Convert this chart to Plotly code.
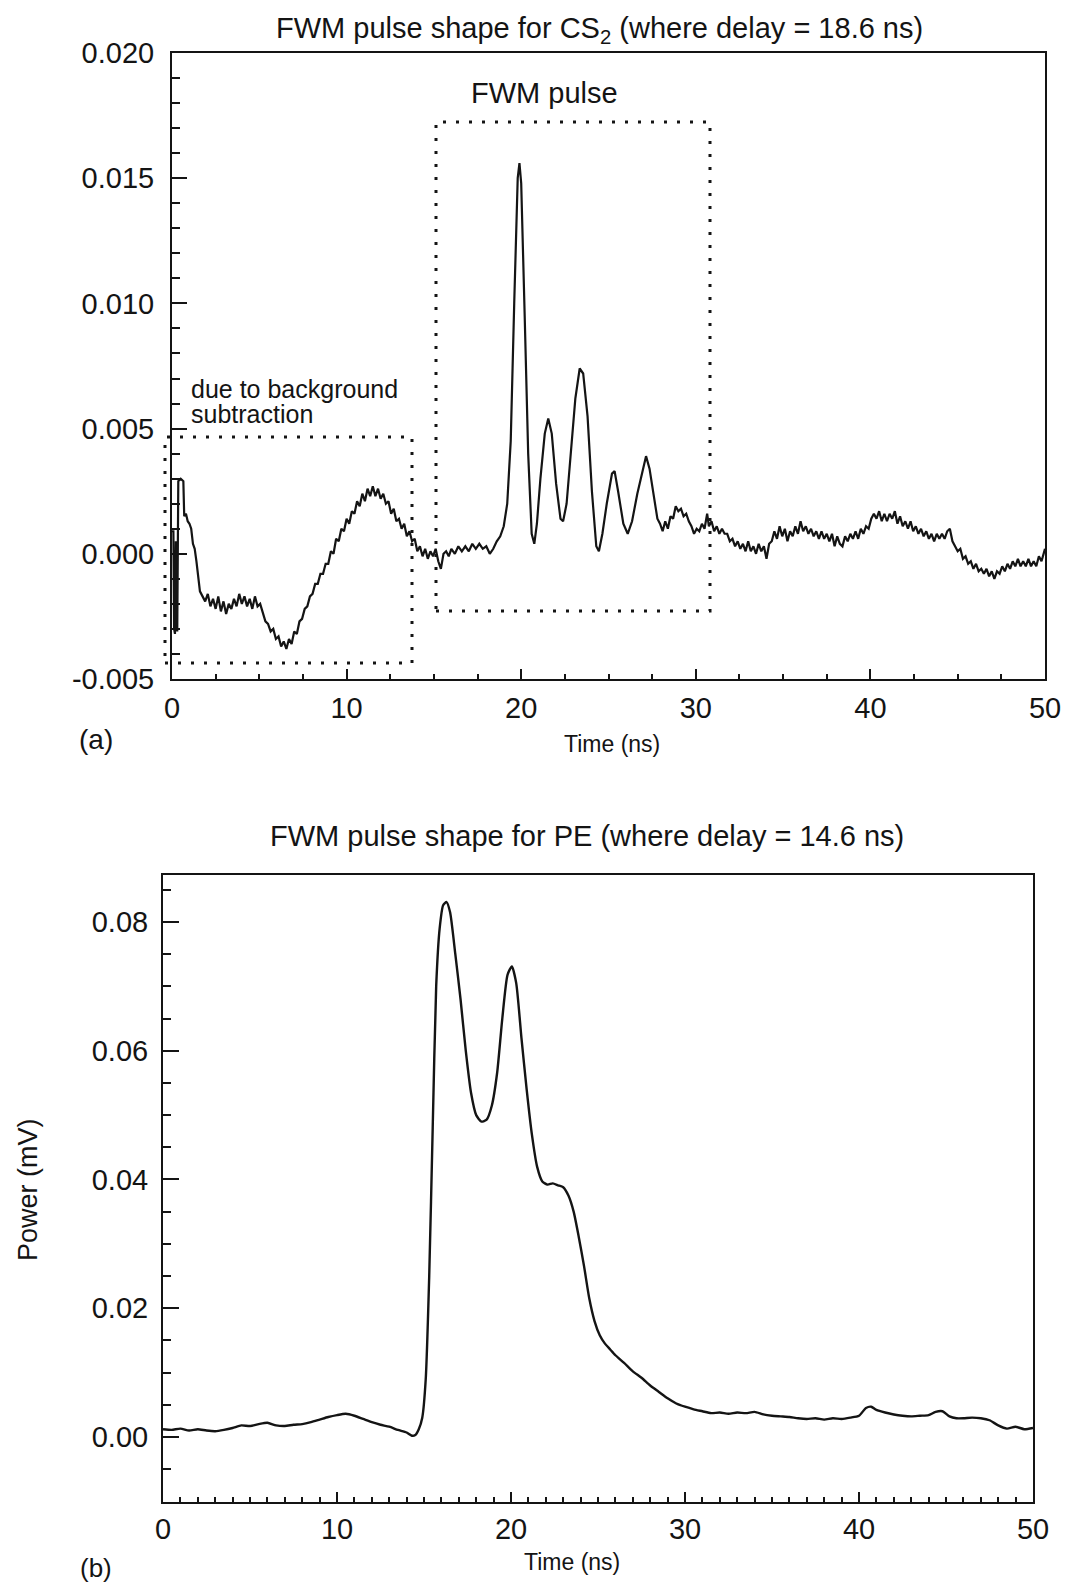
import plotly.graph_objects as go

# ---------------- Data: (a) CS2 FWM pulse ----------------
cs2_time = [
    0.00, 0.08, 0.12, 0.17, 0.22, 0.30, 0.36, 0.50, 0.65, 0.70, 0.80, 0.90, 1.00, 1.10, 1.20, 1.30, 1.40,
    1.50, 1.60, 1.75, 1.90, 2.05, 2.20, 2.35, 2.50, 2.65, 2.80, 2.95, 3.10, 3.25, 3.40, 3.55, 3.70,
    3.85, 4.00, 4.15, 4.30, 4.45, 4.60, 4.75, 4.90, 5.05, 5.20, 5.35, 5.50, 5.65, 5.80, 5.95, 6.10,
    6.25, 6.40, 6.55, 6.70, 6.85, 7.00, 7.15, 7.30, 7.45, 7.60, 7.75, 7.90, 8.05, 8.20, 8.35, 8.50,
    8.65, 8.80, 8.95, 9.10, 9.25, 9.40, 9.55, 9.70, 9.85, 10.00, 10.15, 10.30, 10.45, 10.60, 10.75,
    10.90, 11.05, 11.20, 11.35, 11.50, 11.65, 11.80, 11.95, 12.10, 12.25, 12.40, 12.55, 12.70, 12.85,
    13.00, 13.15, 13.30, 13.45, 13.60, 13.75, 13.90, 14.05, 14.20, 14.35, 14.50, 14.65, 14.80, 14.95,
    15.10, 15.25, 15.40, 15.55, 15.70, 15.85, 16.00, 16.20, 16.40, 16.60, 16.80, 17.00, 17.20, 17.40,
    17.60, 17.80, 18.00, 18.20, 18.40, 18.60, 18.80, 19.00, 19.20, 19.40, 19.60, 19.80, 19.90, 20.00,
    20.20, 20.40, 20.60, 20.75, 20.90, 21.10, 21.35, 21.55, 21.75, 22.00, 22.25, 22.40, 22.60, 22.85,
    23.10, 23.35, 23.55, 23.80, 24.05, 24.30, 24.45, 24.65, 24.90, 25.20, 25.35, 25.55, 25.85, 26.10,
    26.35, 26.65, 26.95, 27.15, 27.35, 27.60, 27.80, 27.95, 28.10, 28.25, 28.40, 28.55, 28.70, 28.85,
    29.00, 29.15, 29.30, 29.45, 29.60, 29.75, 29.90, 30.05, 30.20, 30.35, 30.50, 30.65, 30.75, 30.90,
    31.05, 31.20, 31.35, 31.50, 31.65, 31.80, 31.95, 32.10, 32.25, 32.40, 32.55, 32.70, 32.85, 33.00,
    33.15, 33.30, 33.45, 33.60, 33.75, 33.90, 34.05, 34.20, 34.35, 34.50, 34.65, 34.80, 34.95, 35.10,
    35.25, 35.40, 35.55, 35.70, 35.85, 36.00, 36.15, 36.30, 36.45, 36.60, 36.75, 36.90, 37.05, 37.20,
    37.35, 37.50, 37.65, 37.80, 37.95, 38.10, 38.25, 38.40, 38.55, 38.70, 38.85, 39.00, 39.15, 39.30,
    39.45, 39.60, 39.75, 39.90, 40.05, 40.20, 40.35, 40.50, 40.65, 40.80, 40.95, 41.10, 41.25, 41.40,
    41.55, 41.70, 41.85, 42.00, 42.15, 42.30, 42.45, 42.60, 42.75, 42.90, 43.05, 43.20, 43.35, 43.50,
    43.65, 43.80, 43.95, 44.10, 44.25, 44.40, 44.55, 44.70, 44.85, 45.00, 45.15, 45.30, 45.45, 45.60,
    45.75, 45.90, 46.05, 46.20, 46.35, 46.50, 46.65, 46.80, 46.95, 47.10, 47.25, 47.40, 47.55, 47.70,
    47.85, 48.00, 48.15, 48.30, 48.45, 48.60, 48.75, 48.90, 49.05, 49.20, 49.35, 49.50, 49.65, 49.80,
    50.00,
]
cs2_signal = [
    0.0009, 0.0009, -0.0030, -0.0032, 0.0005, -0.0031, 0.0029, 0.0030, 0.0029, 0.0015, 0.0016, 0.0013,
    0.0012, 0.0010, 0.0004, 0.0002, -0.0003,
    -0.0010, -0.0015, -0.0017, -0.0019, -0.0016, -0.0021, -0.0018, -0.0022, -0.0017, -0.0023, -0.0019,
    -0.0024, -0.0020, -0.0022, -0.0018, -0.0021,
    -0.0016, -0.0020, -0.0017, -0.0021, -0.0018, -0.0022, -0.0017, -0.0021, -0.0020, -0.0024, -0.0027,
    -0.0028, -0.0031, -0.0030, -0.0034, -0.0033,
    -0.0037, -0.0035, -0.0038, -0.0034, -0.0036, -0.0031, -0.0032, -0.0027, -0.0026, -0.0022, -0.0021,
    -0.0017, -0.0016, -0.0012, -0.0012, -0.0008,
    -0.0008, -0.0004, -0.0004, 0.0001, 0.0000, 0.0006, 0.0005, 0.0010, 0.0009, 0.0014, 0.0012, 0.0017,
    0.0016, 0.0021, 0.0019,
    0.0024, 0.0021, 0.0026, 0.0023, 0.0027, 0.0023, 0.0026, 0.0022, 0.0024, 0.0020, 0.0021, 0.0016,
    0.0018, 0.0013,
    0.0014, 0.0010, 0.0012, 0.0007, 0.0009, 0.0005, 0.0006, 0.0001, 0.0003, -0.0001, 0.0002, -0.0002,
    0.0001, -0.0001,
    0.0002, -0.0003, -0.0006, 0.0000, 0.0001, -0.0001, 0.0002, 0.0000, 0.0003, 0.0001, 0.0003, 0.0001,
    0.0004, 0.0002,
    0.0004, 0.0002, 0.0003, 0.0000, 0.0002, 0.0005, 0.0007, 0.0011, 0.0020, 0.0045, 0.0100, 0.0150,
    0.0156, 0.0148,
    0.0095, 0.0040, 0.0008, 0.0004, 0.0012, 0.0030, 0.0048, 0.0054, 0.0048, 0.0028, 0.0014, 0.0013,
    0.0020, 0.0040,
    0.0062, 0.0074, 0.0072, 0.0055, 0.0025, 0.0003, 0.0001, 0.0008, 0.0020, 0.0032, 0.0033, 0.0025,
    0.0012, 0.0008,
    0.0013, 0.0024, 0.0033, 0.0039, 0.0034, 0.0022, 0.0014, 0.0012, 0.0009, 0.0013, 0.0010, 0.0015,
    0.0014, 0.0019,
    0.0017, 0.0018, 0.0015, 0.0016, 0.0013, 0.0011, 0.0008, 0.0010, 0.0009, 0.0012, 0.0010, 0.0016,
    0.0011, 0.0013,
    0.0009, 0.0011, 0.0008, 0.0010, 0.0008, 0.0008, 0.0005, 0.0006, 0.0003, 0.0005, 0.0002, 0.0004,
    0.0001, 0.0005,
    0.0001, 0.0003, 0.0000, 0.0004, 0.0001, 0.0003, -0.0002, 0.0004, 0.0005, 0.0009, 0.0006, 0.0011,
    0.0007, 0.0010,
    0.0005, 0.0009, 0.0007, 0.0011, 0.0008, 0.0013, 0.0009, 0.0011, 0.0008, 0.0010, 0.0007, 0.0009,
    0.0006, 0.0009,
    0.0006, 0.0008, 0.0005, 0.0008, 0.0003, 0.0007, 0.0004, 0.0003, 0.0007, 0.0005, 0.0008, 0.0006,
    0.0009, 0.0006,
    0.0010, 0.0008, 0.0011, 0.0010, 0.0014, 0.0016, 0.0014, 0.0017, 0.0013, 0.0016, 0.0013, 0.0016,
    0.0014, 0.0017,
    0.0012, 0.0015, 0.0011, 0.0013, 0.0010, 0.0013, 0.0009, 0.0011, 0.0008, 0.0010, 0.0007, 0.0009,
    0.0006, 0.0008,
    0.0005, 0.0008, 0.0006, 0.0008, 0.0006, 0.0009, 0.0010, 0.0005, 0.0003, 0.0001, 0.0002, -0.0002,
    -0.0001, -0.0004,
    -0.0003, -0.0006, -0.0004, -0.0007, -0.0006, -0.0008, -0.0006, -0.0009, -0.0007, -0.0010, -0.0007,
    -0.0008, -0.0005, -0.0007,
    -0.0004, -0.0006, -0.0003, -0.0005, -0.0002, -0.0005, -0.0003, -0.0005, -0.0002, -0.0005, -0.0003,
    -0.0005, -0.0001, -0.0003,
    0.0002,
]

# ---------------- Data: (b) PE FWM pulse ----------------
pe_time = [
    0.0, 0.5, 1.0, 1.5, 2.0, 2.5, 3.0, 3.5, 4.0, 4.5, 5.0, 5.5, 6.0, 6.5, 7.0, 7.5, 8.0, 8.5, 9.0,
    9.5, 10.0, 10.5, 11.0, 11.5, 12.0, 12.5, 13.0, 13.5, 14.0, 14.3, 14.5, 14.7, 14.9, 15.1, 15.3,
    15.5, 15.7, 15.9, 16.1, 16.3, 16.5, 16.8, 17.1, 17.4, 17.7, 18.0, 18.3, 18.6, 18.9, 19.2, 19.5,
    19.8, 20.05, 20.3, 20.6, 20.9, 21.2, 21.5, 21.8, 22.1, 22.4, 22.7, 23.0, 23.3, 23.6, 23.9, 24.2,
    24.5, 24.8, 25.1, 25.4, 25.7, 26.0, 26.5, 27.0, 27.5, 28.0, 28.5, 29.0, 29.5, 30.0, 30.5, 31.0,
    31.5, 32.0, 32.5, 33.0, 33.5, 34.0, 34.5, 35.0, 35.5, 36.0, 36.5, 37.0, 37.5, 38.0, 38.5, 39.0,
    39.5, 40.0, 40.4, 40.7, 41.0, 41.5, 42.0, 42.5, 43.0, 43.5, 44.0, 44.4, 44.8, 45.2, 45.6, 46.0,
    46.5, 47.0, 47.5, 48.0, 48.5, 49.0, 49.5, 50.0,
]
pe_power = [
    0.0012, 0.0011, 0.0013, 0.0010, 0.0012, 0.0010, 0.0009, 0.0011, 0.0014, 0.0018, 0.0017, 0.0020,
    0.0022, 0.0018, 0.0017, 0.0019, 0.0020, 0.0023, 0.0027, 0.0031, 0.0034, 0.0036, 0.0033, 0.0028,
    0.0023, 0.0019, 0.0016, 0.0011, 0.0007, 0.0002, 0.0003, 0.0012, 0.0030, 0.0090, 0.0250, 0.0480,
    0.0700, 0.0790, 0.0826, 0.0831, 0.0815, 0.0750, 0.0680, 0.0600, 0.0535, 0.0500, 0.0490, 0.0493,
    0.0515, 0.0565, 0.0650, 0.0718, 0.0731, 0.0705, 0.0620, 0.0540, 0.0470, 0.0420, 0.0397, 0.0392,
    0.0394, 0.0391, 0.0388, 0.0375, 0.0350, 0.0310, 0.0265, 0.0215, 0.0180, 0.0158, 0.0145, 0.0136,
    0.0127, 0.0115, 0.0102, 0.0092, 0.0080, 0.0070, 0.0060, 0.0052, 0.0047, 0.0043, 0.0040, 0.0037,
    0.0038, 0.0036, 0.0038, 0.0037, 0.0039, 0.0035, 0.0033, 0.0032, 0.0031, 0.0029, 0.0028, 0.0029,
    0.0027, 0.0029, 0.0028, 0.0030, 0.0033, 0.0045, 0.0047, 0.0042, 0.0038, 0.0035, 0.0033, 0.0032,
    0.0033, 0.0034, 0.0039, 0.0040, 0.0032, 0.0029, 0.0029, 0.0030, 0.0029, 0.0026, 0.0018, 0.0013,
    0.0016, 0.0012, 0.0014,
]

time_ticks = [0, 10, 20, 30, 40, 50]
top_yticks = [-0.005, 0.000, 0.005, 0.010, 0.015, 0.020]
top_ytext = ["-0.005", "0.000", "0.005", "0.010", "0.015", "0.020"]
bot_yticks = [0.00, 0.02, 0.04, 0.06, 0.08]
bot_ytext = ["0.00", "0.02", "0.04", "0.06", "0.08"]

FONT = "Liberation Sans, Arial, sans-serif"
INK = "#141414"
W, H = 1069, 1588

def px(x):
    return x / W

def py(y):
    return 1 - y / H

fig = go.Figure()
fig.add_trace(go.Scatter(x=cs2_time, y=cs2_signal, mode="lines",
                         line=dict(color=INK, width=2.2), xaxis="x", yaxis="y", showlegend=False))
fig.add_trace(go.Scatter(x=pe_time, y=pe_power, mode="lines",
                         line=dict(color=INK, width=2.4, shape="spline", smoothing=0.6),
                         xaxis="x2", yaxis="y2", showlegend=False))

axis_common = dict(showline=True, linecolor=INK, linewidth=2, mirror=True, ticks="inside",
                   tickcolor=INK, tickwidth=2, showgrid=False, zeroline=False, automargin=False,
                   tickfont=dict(family=FONT, size=29, color=INK))

fig.update_layout(
    width=W, height=H, margin=dict(l=0, r=0, t=0, b=0, autoexpand=False),
    paper_bgcolor="white", plot_bgcolor="white",
    xaxis=dict(domain=[px(172), px(1045)], range=[0, 50], tickvals=time_ticks, ticklen=10,
               minor=dict(ticks="inside", dtick=2.5, tick0=0, ticklen=5, tickwidth=2, tickcolor=INK),
               anchor="y", ticklabelstandoff=2, **axis_common),
    yaxis=dict(domain=[py(679), py(53)], range=[-0.005, 0.020], tickvals=top_yticks,
               ticktext=top_ytext, ticklen=15,
               minor=dict(ticks="inside", dtick=0.001, tick0=0, ticklen=8, tickwidth=2, tickcolor=INK),
               anchor="x", ticklabelstandoff=10, **axis_common),
    xaxis2=dict(domain=[px(163), px(1033)], range=[0, 50], tickvals=time_ticks, ticklen=10,
                minor=dict(ticks="inside", dtick=1, tick0=0, ticklen=5, tickwidth=2, tickcolor=INK),
                anchor="y2", ticklabelstandoff=0, **axis_common),
    yaxis2=dict(domain=[py(1502), py(875)], range=[-0.0101, 0.0873], tickvals=bot_yticks,
                ticktext=bot_ytext, ticklen=16,
                minor=dict(ticks="inside", dtick=0.005, tick0=0, ticklen=8, tickwidth=2, tickcolor=INK),
                anchor="x2", ticklabelstandoff=7, **axis_common),
)

dot = dict(color=INK, width=3, dash="3px,10px")
fig.add_shape(type="rect", xref="paper", yref="paper",
              x0=px(165), x1=px(412), y0=py(663), y1=py(437), line=dot)
fig.add_shape(type="rect", xref="paper", yref="paper",
              x0=px(436), x1=px(710), y0=py(611), y1=py(122), line=dot)

def note(text, x, y, size, xanchor="center", angle=0):
    fig.add_annotation(text=text, x=px(x), y=py(y), xref="paper", yref="paper",
                       xanchor=xanchor, yanchor="middle", showarrow=False, textangle=angle,
                       font=dict(family=FONT, size=size, color=INK))

note("FWM pulse shape for CS<sub>2</sub> (where delay = 18.6 ns)", 599, 30, 29)
note("FWM pulse", 544, 93, 29)
note("due to background", 189, 389, 25, xanchor="left")
note("subtraction", 189, 414, 25, xanchor="left")
note("(a)", 96, 740, 28)
note("Time (ns)", 612, 744, 23)
note("FWM pulse shape for PE (where delay = 14.6 ns)", 587, 836, 29)
note("Power (mV)", 28, 1190, 27, angle=-90)
note("Time (ns)", 572, 1562, 23)
note("(b)", 96, 1568, 26)

fig.write_html("out.html")
